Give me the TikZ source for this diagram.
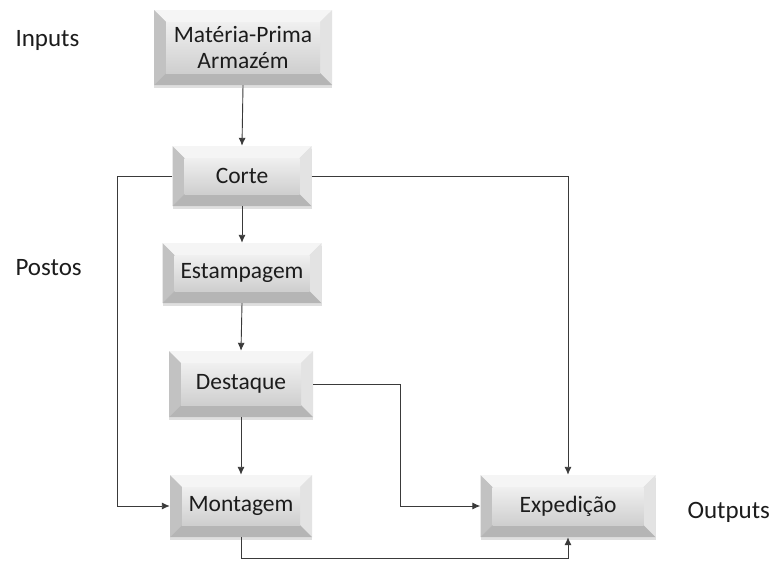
\documentclass[tikz,border=0pt]{standalone}
\usepackage{fontspec}
\setmainfont{Carlito}
\usetikzlibrary{arrows.meta,shadows}
\definecolor{ink}{HTML}{1C1C1C}
\definecolor{wire}{HTML}{3A3A3A}
\begin{document}
\begin{tikzpicture}[x=1pt,y=-1pt,
  bevel/.style={
    rectangle, inner sep=0pt, text=ink, align=center,
    font=\fontsize{23.5}{26}\selectfont,
    drop shadow={shadow xshift=0pt, shadow yshift=-3pt, opacity=0.25, fill=gray},
    path picture={
      \path (path picture bounding box.south west) coordinate (bl)
            (path picture bounding box.north east) coordinate (tr)
            (path picture bounding box.north west) coordinate (tl)
            (path picture bounding box.south east) coordinate (br);
      \coordinate (ibl) at ([shift={(12pt,12pt)}]bl);
      \coordinate (itr) at ([shift={(-12pt,-12pt)}]tr);
      \coordinate (itl) at ([shift={(12pt,-12pt)}]tl);
      \coordinate (ibr) at ([shift={(-12pt,12pt)}]br);
      \fill[gray!8] (tl) -- (tr) -- (itr) -- (itl) -- cycle;
      \fill[gray!48] (tl) -- (itl) -- (ibl) -- (bl) -- cycle;
      \fill[gray!22] (tr) -- (itr) -- (ibr) -- (br) -- cycle;
      \fill[gray!58] (bl) -- (ibl) -- (ibr) -- (br) -- cycle;
      \shade[top color=gray!12, bottom color=gray!38] (ibl) rectangle (itr);
    }},
  side/.style={anchor=west, text=ink, font=\fontsize{25}{28}\selectfont},
  link/.style={draw=wire, line width=0.9pt},
  arrow/.style={link, -{Latex[length=8pt,width=7pt]}}]

\useasboundingbox (0,0) rectangle (776,560);

% process stations
\node[bevel, minimum width=178pt, minimum height=75pt] (mp)   at (243,47.5) {Matéria-Prima\\Armazém};
\node[bevel, minimum width=139pt, minimum height=60pt] (corte) at (242,176) {Corte};
\node[bevel, minimum width=159pt, minimum height=60pt] (estamp) at (242,273) {Estampagem};
\node[bevel, minimum width=144pt, minimum height=66pt] (dest) at (241,384) {Destaque};
\node[bevel, minimum width=142pt, minimum height=62pt] (mont) at (241,506) {Montagem};
\node[bevel, minimum width=175pt, minimum height=62pt] (exped) at (568,506) {Expedição};

% side labels
\node[side] (inputs)  at (12,40)  {Inputs};
\node[side] (postos)  at (12,268) {Postos};
\node[side] (outputs) at (684,512) {Outputs};

% routing corners
\coordinate (cl) at (117,176);
\coordinate (dr) at (400,384);
\coordinate (mb) at (241,558);

% connectors
\draw[arrow] (mp.south) -- (corte.north);
\draw[arrow] (corte.south) -- (estamp.north);
\draw[arrow] (estamp.south) -- (dest.north);
\draw[arrow] (dest.south) -- (mont.north);
\draw[arrow] (corte.west) -- (cl) |- (mont.west);
\draw[arrow] (corte.east) -| (exped.north);
\draw[arrow] (dest.east) -- (dr) |- (exped.west);
\draw[arrow] (mont.south) -- (mb) -| (exped.south);
\end{tikzpicture}
\end{document}
